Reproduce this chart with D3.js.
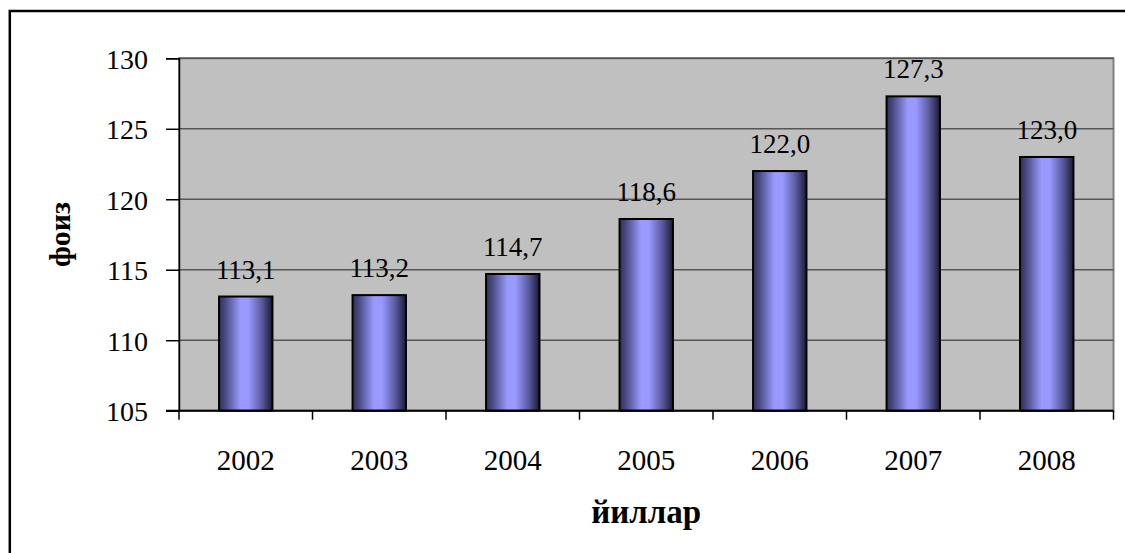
<!DOCTYPE html>
<html><head><meta charset="utf-8">
<script src="https://cdnjs.cloudflare.com/ajax/libs/d3/7.8.5/d3.min.js"></script>
<style>body{margin:0;background:#fff}svg{display:block}
svg text{font-family:"Liberation Serif","Times New Roman","Nimbus Roman","FreeSerif","DejaVu Serif",serif;}</style>
</head><body>
<svg id="c" width="1125" height="553"></svg>
<script>
const years = ["2002","2003","2004","2005","2006","2007","2008"];
const values = [113.1,113.2,114.7,118.6,122.0,127.3,123.0];
const labels = ["113,1","113,2","114,7","118,6","122,0","127,3","123,0"];
const yTicks = [105,110,115,120,125,130];
const yTitle = "фоиз";
const xTitle = "йиллар";

const svg = d3.select("#c");
const L=179, R=1113.5, T=58.3, B=410.7;

const defs = svg.append("defs");
const g = defs.append("linearGradient").attr("id","bg").attr("x1","0").attr("x2","1").attr("y1","0").attr("y2","0");
[[0,"#30305a"],[0.12,"#4a4a86"],[0.4,"#9999ff"],[0.55,"#9999ff"],[0.8,"#5a5a9e"],[1,"#1a1a30"]].forEach(s=>g.append("stop").attr("offset",s[0]).attr("stop-color",s[1]));

// outer frame
svg.append("rect").attr("x",9.8).attr("y",11).attr("width",1200).attr("height",600)
  .attr("fill","none").attr("stroke","#000").attr("stroke-width",2.5);

const x = d3.scaleBand().domain(years).range([L,R]).paddingInner(0.6).paddingOuter(0.3);
const y = d3.scaleLinear().domain([105,130]).range([B,T]);

// plot area
svg.append("rect").attr("x",L).attr("y",T).attr("width",R-L).attr("height",B-T)
  .attr("fill","#c0c0c0").attr("stroke","#808080").attr("stroke-width",2);

// gridlines
svg.append("g").selectAll("line").data(yTicks.filter(v=>v>105)).join("line")
  .attr("x1",L).attr("x2",R).attr("y1",d=>y(d)).attr("y2",d=>y(d))
  .attr("stroke","#555").attr("stroke-width",1.6);

// bars
svg.append("g").selectAll("rect").data(values).join("rect")
  .attr("x",(d,i)=>x(years[i])).attr("width",x.bandwidth())
  .attr("y",d=>y(d)).attr("height",d=>B-y(d))
  .attr("fill","url(#bg)").attr("stroke","#000").attr("stroke-width",2);

// data labels
svg.append("g").selectAll("text").data(values).join("text")
  .attr("x",(d,i)=>x(years[i])+x.bandwidth()/2).attr("y",d=>y(d)-18)
  .attr("text-anchor","middle").attr("font-size",27)
  .text((d,i)=>labels[i]);

// y axis
const ya = svg.append("g").attr("transform",`translate(${L},0)`)
  .call(d3.axisLeft(y).tickValues(yTicks).tickSize(13).tickPadding(18).tickFormat(d3.format("d")));
ya.select(".domain").attr("stroke","#000").attr("stroke-width",1.5);
ya.selectAll(".tick line").attr("stroke","#000").attr("stroke-width",1.5);
ya.selectAll("text").attr("font-size",28).attr("fill","#000").attr("dy","0.35em");

// x axis
const xb = d3.scaleLinear().domain([0,years.length]).range([L,R]);
const xa = svg.append("g").attr("transform",`translate(0,${B})`);
xa.append("line").attr("x1",L-13).attr("x2",R).attr("stroke","#000").attr("stroke-width",2);
xa.selectAll("line.t").data(d3.range(years.length+1)).join("line").attr("class","t")
  .attr("x1",d=>xb(d)).attr("x2",d=>xb(d)).attr("y1",0).attr("y2",9).attr("stroke","#000").attr("stroke-width",1.5);
svg.append("g").selectAll("text").data(years).join("text")
  .attr("x",d=>x(d)+x.bandwidth()/2).attr("y",470)
  .attr("text-anchor","middle").attr("font-size",29).text(d=>d);

// titles
svg.append("text").attr("x",(L+R)/2).attr("y",523).attr("text-anchor","middle")
  .attr("font-weight","bold").attr("font-size",33).text(xTitle);
svg.append("text").attr("transform",`translate(70,${(T+B)/2}) rotate(-90)`).attr("text-anchor","middle")
  .attr("font-weight","bold").attr("font-size",30).text(yTitle);
</script>
</body></html>
